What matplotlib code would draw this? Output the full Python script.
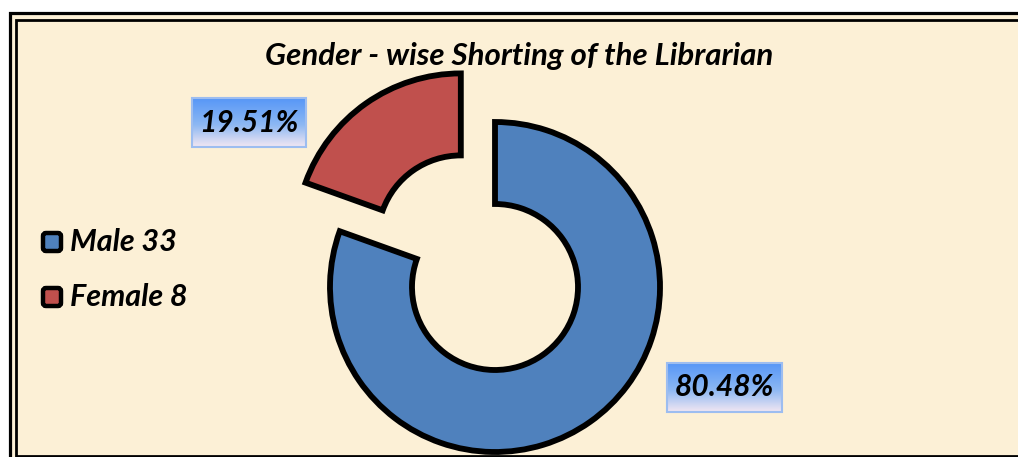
import numpy as np
import matplotlib
matplotlib.use("Agg")
import matplotlib.pyplot as plt
from matplotlib.patches import Rectangle, FancyBboxPatch
from matplotlib.colors import LinearSegmentedColormap

# ---- data ----
categories = ["Male", "Female"]
counts = [33, 8]
pct_labels = ["80.48%", "19.51%"]
colors = ["#4F81BD", "#C0504D"]
title = "Gender - wise Shorting of the Librarian"

W, H = 1018, 457
bg = "#FCF0D6"
fig = plt.figure(figsize=(W / 100, H / 100), dpi=100, facecolor=bg)
ax = fig.add_axes([0, 0, 1, 1])
ax.axis("off")

def Y(y):
    return H - y

FONT = ["Lato", "DejaVu Sans"]

# white margin outside the frame (left and top)
ax.add_patch(Rectangle((0, 0), 10, H, facecolor="white", edgecolor="none",
                       zorder=0))
ax.add_patch(Rectangle((0, Y(12.5)), W, 12.5, facecolor="white",
                       edgecolor="none", zorder=0))
# open double border (left, top, bottom only)
ax.plot([W + 20, 10, 10], [Y(12.5), Y(12.5), -20], color="black",
        lw=2.3, solid_joinstyle="miter", solid_capstyle="butt", zorder=1,
        clip_on=False)
ax.plot([W + 20, 16.5, 16.5, W + 20], [Y(19.5), Y(19.5), Y(456), Y(456)],
        color="black", lw=2.0, solid_joinstyle="miter", solid_capstyle="butt",
        zorder=1, clip_on=False)

# donut
R = 165
explode = [0.0, 0.36 * R]
wedges, _ = ax.pie(counts, colors=colors, startangle=90, counterclock=False,
                   explode=explode, center=(495, Y(287)), radius=R,
                   wedgeprops=dict(width=82, edgecolor="black", linewidth=4.2,
                                   joinstyle="miter"),
                   frame=False)

# gradient label boxes
cmap = LinearSegmentedColormap.from_list(
    "g", [(0, "#5797F7"), (0.55, "#8DB8F3"), (1.0, "#F1E6F2")])
grad = np.linspace(0, 1, 64).reshape(-1, 1)

def label_box(x0, y0, x1, y1, text):
    ax.imshow(grad, cmap=cmap, aspect="auto",
              extent=[x0, x1, Y(y1), Y(y0)], zorder=5, origin="upper")
    ax.add_patch(Rectangle((x0, Y(y1)), x1 - x0, y1 - y0, facecolor="none",
                           edgecolor="#9DBDF0", lw=1.5, zorder=6))
    ax.text((x0 + x1) / 2, Y((y0 + y1) / 2), text, ha="center", va="center",
            fontsize=21.5, fontweight="bold", fontstyle="italic",
            family=FONT, color="black", zorder=7)

label_box(192, 98, 306, 147, pct_labels[1])
label_box(667, 363, 782, 412, pct_labels[0])

# title
ax.text(519, Y(56), title, ha="center", va="center", fontsize=22.5,
        fontweight="bold", fontstyle="italic", family=FONT, color="black",
        zorder=8)

# legend
leg_y = [242, 297]
for cat, n, col, yy in zip(categories, counts, colors, leg_y):
    ax.add_patch(FancyBboxPatch((43, Y(yy + 9)), 18, 18,
                                boxstyle="round,pad=0,rounding_size=3",
                                facecolor=col, edgecolor="black", lw=3.2,
                                zorder=8))
    ax.text(70, Y(yy), f"{cat} {n}", ha="left", va="center", fontsize=22,
            fontweight="bold", fontstyle="italic", family=FONT,
            color="black", zorder=8)

ax.set_xlim(0, W)
ax.set_ylim(0, H)
ax.set_aspect("auto")

fig.savefig("out.png", dpi=100, facecolor=bg)
